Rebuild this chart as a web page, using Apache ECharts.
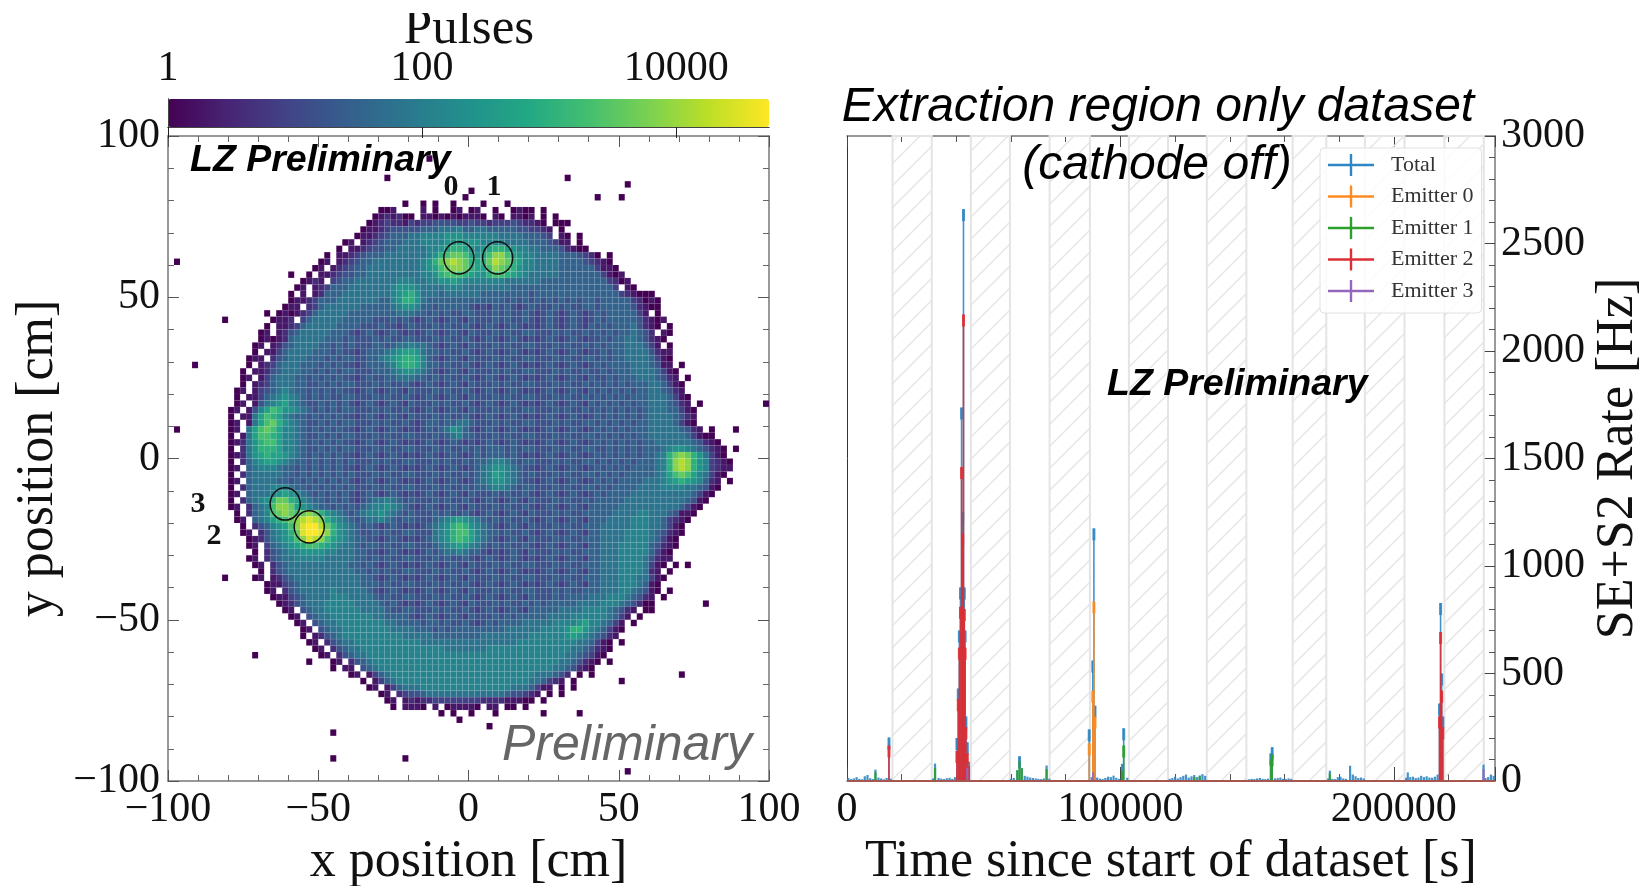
<!DOCTYPE html>
<html><head><meta charset="utf-8">
<style>html,body{margin:0;padding:0;background:#fff}#c{width:1640px;height:886px}</style>
<script src="https://cdn.jsdelivr.net/npm/echarts@6/dist/echarts.min.js"></script></head>
<body><div id="c"></div>
<script>
// 100 x 100 bins of 2 cm; top row is y=99, left column x=-99. "_" = ten empty bins. Char = base-36 level, log10(pulses)=0.3*level
const heatRows = [
"_","_","_",
"_ _ _ _ ...0......",
"_","_",
"_ _ _ ......0... _ _ ......0...",
"_ _ _ _ _ _ _ ......0...",
"_ _ _ _ _ 0.........",
"_ _ _ _ .........0 _ _ .0...0....",
"_ _ _ .........0 ..0.0..0.. ..0...0...",
"_ _ _ .....001.. ..1.0..01. 01..0..010 0.0.......",
"_ _ _ ....012120 0.11010101 110.10.110 1.0.0.....",
"_ _ _ ...0123221 3233444433 4332333432 210.000...",
"_ _ _ ..01123444 4455566675 5665555544 3321.0....",
"_ _ _ .011234555 6677778887 7777766665 5543.10.0.",
"_ _ .........0 1.12345556 6677778898 8877776666 5554311.0.",
"_ _ ........0. 1123445566 6667789aa9 8789aa9877 6655542100",
"_ _ ......0.11 2345556666 66678abccb 989bddb987 7666655543 20.0......",
".0........ _ .....01.12 3455666666 6678acdedc a9acedca97 7666655554 3210......",
"_ _ ....01.123 4556666666 66789bcddc a99bdcba87 7666655555 53110.....",
"_ _ 0..0.11234 4556666666 66778abbba 988abba987 6666655555 553101....",
"_ _ ..0121.345 5666666677 7667788987 7777776666 6655555555 5553201...",
"_ _ .01.123555 6666666788 8766667776 6666666555 5555555555 55553.10..",
"_ _ 0.1.125556 6666666789 a866656666 6655555555 4555555555 5555532100 0.........",
"_ _ 0112355566 666665578a a865555555 5555554545 4545454545 5455555320 10........",
"_ .........0 11.2356666 6655555678 8755455555 4343545434 5444545445 5455555421 00........",
"_ ......0.01 0123566666 5555555566 6554545445 5444545445 4345434543 4545555531 .0........",
".........0 .......011 2.35666665 5555444545 4345434543 5444545445 4345434543 4545555542 101.......",
"_ ......0.11 2356666655 5544454434 5444545445 4345434543 4345434543 5454555642 10.0......",
"_ .....01.12 4566666555 4345434543 4345434543 5444545445 5444545445 4545455654 2.10......",
"_ .....01012 5666665554 5444545445 5444545445 4345434543 4345434543 4454556654 210.......",
"_ ....01.124 5666655454 5444554566 7665434543 5444545445 5444545445 4545556665 31.0......",
"_ ....0.1135 6666555454 4345556789 9865545445 4345434543 4345434543 4454556666 4211......",
"_ ...011.245 6665554545 544556789a a975434543 5444545445 5444545445 5454556666 5310......",
"....0..... ...0.12356 6655545454 434555679a a975545445 4345434543 4345434543 4545555666 5411.0....",
"_ ..0.112456 6655454545 5444555678 8765434543 5444545445 5444545445 4454555666 65310.....",
"_ ..01.13566 6554545454 4345445566 6554545445 4345434543 4345434543 5445455566 65421.0...",
"_ ..0.123566 6554454545 5444545445 4345434543 5444545445 5444545445 4545454555 665310....",
"_ .01.134567 6554545454 4345434543 5444545445 4345434543 4345434543 5454545455 665421....",
"_ .0.1135678 7654545445 5444545445 4345434543 5444545445 5444545445 4545454555 6665310...",
"_ .01.146789 7654454545 4345434543 5444545445 4345434543 4345434543 5454545455 6665421.0. .........0",
"_ 01.1479ba8 8765454545 5444545445 4345434543 5444545445 5444545445 4545454545 66655310..",
"_ 0.1169ba97 6554545454 4345434543 5444545445 4345434543 4345434543 4545454545 66665421..",
"_ 01.169bca8 7654454545 5444545445 4345545566 5444545445 5444545445 5454545455 66665310..",
".0........ 01.69bcb97 7654545454 4345434543 4345456875 4345434543 4345434543 4545454555 666665421. 0...0.....",
"_ 0.169bba97 7654454545 5444545445 5444545675 5444545445 5444545445 5454545455 6666665310 0.........",
"_ 01268abb97 7654545454 4345434543 4345434543 4345434543 4345434543 4545454545 5666666542 10........",
"_ 0.268aaa97 7654454545 5444545445 5444545445 4545554545 5444545445 5445454545 5567887654 210.0.....",
"_ 012689a998 7654545454 4345434543 4345434543 4545554543 4345434543 4545454545 567acdca86 310.......",
"_ 0.25789987 6554545454 5444545445 5444545445 4556776545 5444545445 5454545455 567adeda87 3210......",
"_ 01.5677765 5454545454 4345434543 4345434543 4567887654 4345434543 4545454555 567adeda87 3211......",
"_ 0.25666665 5454545454 5444545445 5444545445 4567987654 5444545445 5454545555 5679bcb976 310.......",
"_ 01.5666655 4545454545 4345434543 4345434543 4567887654 4345434543 4545455556 66789a9875 21.0......",
"_ 0.25666777 6554545454 5444545445 5444545445 4556776545 5444545445 5454555566 6677776654 10........",
"_ 01.5666789 8765454545 4345434543 4345434543 5444545445 4345434543 4545555666 6666666531 0.........",
"_ 0.25678acc a976554545 4345667654 5444545445 4345434543 5444545445 4555556666 6666665410",
"_ 01.2567bdd c987655454 5456778765 4345434543 5444545445 4345434543 5555566666 666665310.",
"_ .0.2567bcd cbcdca8765 4567787654 5444545445 4345434543 5444545445 5555666677 66654110..",
"_ .01.5679ab cdefeda876 5456676545 5444567898 7654545445 4345434543 5556666777 6653210...",
"_ ..0.245789 bdfggeca87 6545434543 4345678aba 8765434543 5444545445 5566666777 665310....",
"_ ..01.24678 acfggfda87 6544545445 5444678abb 9765545445 4345434543 5566667777 654210....",
"_ ...0124678 9bdfedb987 6554434543 4345678aba 9765434543 5444545445 5566667777 65310.....",
"_ ...01.3567 89abba9876 6545545445 5444567898 7654545445 4345434543 5566677777 54210.....",
"_ ....0.2456 7788887766 6554434543 4345456676 5543434543 5444545445 5566677777 5310......",
"_ ...01.2456 6777776666 6554545445 5444545445 4345434543 4345434543 5566677776 4211......",
"_ ....01.245 6666666666 5545434543 4345434543 5444545445 5444545445 5566677776 310.0.0...",
"_ .....0.245 6666666666 6554545445 5444545445 4345434543 4345434543 5566677776 21.0......",
".........0 ....01.124 5666666666 6655434543 4345434543 5444545445 5444545445 5566677766 310.......",
"_ ......0113 4566666666 6655545445 5444545445 4345434543 4345434543 5566677765 10........",
"_ ......01.2 4566666766 6665434543 4345434543 5444545445 5444545445 5566677654 10.0......",
"_ .......011 3456666777 6666545445 5444545445 4345434543 5444545555 6667776542 1.0.......",
"_ ........01 2456667777 7666654543 4345434543 5444545445 4545555566 6677765420 0........0",
"_ .........0 1.45667777 7766665445 5444545445 4345434543 5555566667 77765421.0 0.........",
"_ _ 01.4566777 7777665555 4345434543 5444545455 5556666777 7776531.0.",
"_ _ .01.456677 7777776655 5545545445 4345455556 6666777789 776531.0..",
"_ _ ..01.45667 7777777666 6555454555 5555556666 6677778aa8 765310....",
"_ _ ..0.124567 7777777776 6666555555 5566666666 7777778987 65421.....",
"_ _ ...01.2456 6777777777 7766666666 6666666677 7777777766 5310.0....",
"_ _ ....01.245 6677777777 7777776666 6667777777 7777777665 4210......",
"_ ....0..... .....01.24 5667777777 7777777777 7777777777 7777776654 310.......",
"_ _ ...0...01. 2456777777 7777777777 7777777777 7777766542 10.0......",
"_ _ .......0.1 1.45677777 7777777777 7777777777 7777665421 0.........",
"_ _ _ 01.1356777 7777777777 7777777777 7666542.0. 0......... .....0....",
"_ _ _ ..0.135677 7777777777 7777777777 665321.0.. .....0....",
"_ _ _ ...01.1356 6677777777 7777777666 5311.0.0..",
"_ _ _ .....01.23 4456666666 6666665443 21.0.0....",
"_ _ _ ......01.1 2122333333 3322221110 0.0.......",
"_ _ _ .......0.1 110.1.0111 10.11.00.0",
"_ _ _ _ .....0.0.. 0...0.... ...0.....0",
"_ _ _ _ ........0.",
"_ _ _ _ _ ...0......",
"_ _ .......0..",
"_","_","_",
"_ _ .......0.. .........0",
"_",
"_ _ _ _ _ _ _ ......0...",
"_"];

const emitterCircles = [[-3.2,62.2,5],[9.7,62.2,5],[-53,-21.2,5],[-61,-14.1,5]];
const logMaxPulses = 4.73;
const colorbarTickLabels = {0:'1',2:'100',4:'10000'};
const viridis = ['#440154','#482475','#414487','#355f8d','#2a788e','#21918c','#22a884','#44bf70','#7ad151','#bddf26','#fde725'];

const hatchBands = [[16640,31000],[45300,59600],[74100,88850],[103100,117400],[131600,146070],[163000,175300],[189400,203900],[218500,232900]];

const totalTimes = [500,1500,2500,3500,4500,5500,6500,7500,8500,9500,10400,11500,12500,13500,14500,15350,16000,
 31500,32200,33500,34500,35500,36500,37500,38500,39500,40200,40700,41100,41500,41900,42300,42600,42900,43200,43500,44000,44600,
 60000,61000,62300,63100,63900,65000,66000,67000,68000,69000,70000,71000,72000,73000,74000,
 88600,89500,89900,90300,90700,91500,92500,93500,94500,95500,96500,97500,98500,99500,100600,101200,102500,
 118000,119000,120000,121000,122000,123000,124000,125000,126000,127000,128000,129000,130000,131000,
 147000,148000,149000,150000,151000,152000,153000,154000,155000,155500,156500,157500,158500,159500,160500,161500,162500,
 176000,176600,177500,178500,179500,180500,181500,182500,184000,185000,186000,187000,188000,189000,
 204500,205100,206000,207000,208000,209000,210000,211000,212000,213000,214000,215000,216000,216700,217100,217500,217900,
 233500,232800,234500,235500,236500];
const totalRates = [14,9,12,18,10,8,22,28,13,9,53,16,12,8,14,202,11,
 12,81,14,11,9,13,15,10,18,200,430,700,900,1737,1250,2660,900,700,300,180,90,
 10,14,50,115,60,24,20,16,14,12,10,9,12,72,11,
 240,18,560,1175,350,16,11,9,14,20,18,25,15,10,80,245,15,
 10,14,20,12,18,24,30,16,22,28,18,26,32,24,
 8,10,9,12,14,10,9,11,128,157,12,14,16,10,9,12,10,
 12,48,10,9,18,20,12,10,71,30,22,14,16,12,
 15,40,18,20,14,16,24,18,22,16,15,20,30,360,828,500,300,
 14,76,18,30,24];
const emitter0Times = [88600,89900,90300,90700];
const emitter0Rates = [175,420,835,300];
const emitter1Times = [10400,32200,62300,63100,63900,73000,100600,101200,127000,129000,155000,155500,176600];
const emitter1Rates = [40,60,50,92,60,55,50,165,18,22,100,124,35];
const emitter2Times = [15350,40200,40700,41100,41500,41900,42300,42600,42900,43200,43500,44000,44600,216700,217100,217500,217900];
const emitter2Rates = [165,140,380,620,810,1460,1150,2170,800,620,250,130,70,300,693,420,250];
const emitter3Times = [44000,90000,232800];
const emitter3Rates = [60,40,55];
const seriesNames = ['Total','Emitter 0','Emitter 1','Emitter 2','Emitter 3'];
const seriesColors = ['#2f86c4','#ff8a1f','#2ca02c','#dc2f34','#9467bd'];
const serif = 'Liberation Serif';

const heatData = [];
heatRows.forEach((row,i)=>{
  const cells = row.split(' ').map(t=>t==='_'?'..........':t).join('');
  for(let j=0;j<cells.length;j++){
    if(cells[j]==='.')continue;
    heatData.push([-99+2*j,99-2*i,Math.min(parseInt(cells[j],36)*0.3,logMaxPulses)]);
  }
});

function hatchTile(){
  const n=22,c=document.createElement('canvas');c.width=n;c.height=n;
  const g=c.getContext('2d');g.strokeStyle='#e6e6e6';g.lineWidth=1.5;
  g.beginPath();g.moveTo(-2,n+2);g.lineTo(n+2,-2);g.moveTo(-2,2);g.lineTo(2,-2);g.moveTo(n-2,n+2);g.lineTo(n+2,n-2);g.stroke();
  return c;
}
const hatch={image:hatchTile(),repeat:'repeat'};

const lab=(o)=>Object.assign({fontFamily:serif,fontSize:42,color:'#111'},o);
const spine={show:true,onZero:false,lineStyle:{color:'#777',width:1.5}};
function spatialAxis(grid,pos,labels,extra){
  return Object.assign({type:'value',gridIndex:grid,position:pos,min:-100,max:100,interval:50,
    axisLine:spine,splitLine:{show:false},
    axisTick:{show:true,inside:true,length:11,lineStyle:{color:'#555',width:1}},
    minorTick:{show:true,splitNumber:5,length:6,lineStyle:{color:'#666',width:1}},
    axisLabel:labels?lab({show:true,margin:8,padding:(pos==='left'?[10,0,0,0]:0),formatter:v=>String(v).replace('-','\u2212'),showMinLabel:true,showMaxLabel:true}):{show:false}},extra||{});
}
function barSeries(k,times,rates){
  return {name:seriesNames[k],type:'custom',xAxisIndex:2,yAxisIndex:2,z:3+k,silent:true,
    color:seriesColors[k],itemStyle:{color:seriesColors[k]},
    clip:true,data:times.map((t,i)=>[t,rates[i]]),encode:{x:0,y:1},
    renderItem:(p,api)=>{
      const a=api.coord([api.value(0),0]),b=api.coord([api.value(0),api.value(1)]);
      const big=api.value(1)>100,col=seriesColors[k];
      const kids=[{type:'line',shape:{x1:a[0],y1:a[1],x2:b[0],y2:b[1]},style:{stroke:col,lineWidth:big?1.6:2.2,opacity:.9}}];
      if(big)kids.push({type:'line',shape:{x1:b[0],y1:b[1],x2:b[0],y2:b[1]+12},style:{stroke:col,lineWidth:3,opacity:.85}});
      return {type:'group',children:kids};
    }};
}

const option={
  backgroundColor:'#fff',animation:false,
  textStyle:{fontFamily:serif},
  grid:[
    {left:168,top:136,width:601,height:645,outerBoundsMode:'none'},
    {left:847,top:136,width:648,height:645,outerBoundsMode:'none'},
    {left:168,top:99,width:601,height:28,outerBoundsMode:'none'}
  ],
  xAxis:[
    spatialAxis(0,'bottom',true,{name:'x position [cm]',nameLocation:'middle',nameGap:48,nameTextStyle:lab({fontSize:52})}),
    spatialAxis(0,'top',false),
    {type:'value',gridIndex:1,position:'bottom',min:0,max:237000,interval:100000,axisLine:spine,splitLine:{show:false},
      axisTick:{show:true,inside:true,length:14,lineStyle:{color:'#444'}},minorTick:{show:true,splitNumber:5,length:7,lineStyle:{color:'#555'}},
      axisLabel:lab({margin:8,showMaxLabel:false,formatter:v=>String(v)}),name:'Time since start of dataset [s]',nameLocation:'middle',nameGap:48,nameTextStyle:lab({fontSize:52})},
    {type:'value',gridIndex:1,position:'top',min:0,max:237000,interval:100000,axisLine:spine,splitLine:{show:false},
      axisTick:{show:true,inside:true,length:11,lineStyle:{color:'#444'}},minorTick:{show:true,splitNumber:5,length:6,lineStyle:{color:'#555'}},axisLabel:{show:false}},
    {type:'value',gridIndex:2,position:'top',z:10,min:0,max:logMaxPulses,interval:2,axisLine:{show:true,lineStyle:{color:'#444',width:1}},splitLine:{show:false},
      axisTick:{show:true,inside:true,length:11,lineStyle:{color:'#222'}},
      axisLabel:lab({margin:9,showMaxLabel:false,formatter:v=>colorbarTickLabels[v]||''})},
    {type:'value',gridIndex:2,position:'bottom',z:10,min:0,max:logMaxPulses,axisLine:{show:true,lineStyle:{color:'#444',width:1}},splitLine:{show:false},axisTick:{show:false},axisLabel:{show:false}}
  ],
  yAxis:[
    spatialAxis(0,'left',true,{name:'y position [cm]',nameLocation:'middle',nameGap:104,nameRotate:90,nameTextStyle:lab({fontSize:52})}),
    spatialAxis(0,'right',false),
    {type:'value',gridIndex:1,position:'right',min:0,max:3000,interval:500,axisLine:spine,splitLine:{show:false},
      axisTick:{show:true,inside:true,length:12,lineStyle:{color:'#444'}},minorTick:{show:true,splitNumber:5,length:6,lineStyle:{color:'#555'}},
      axisLabel:lab({margin:6,padding:[10,0,0,0],formatter:v=>String(v)}),name:'SE+S2 Rate [Hz]',nameLocation:'middle',nameGap:97,nameRotate:90,nameTextStyle:lab({fontSize:52})},
    {type:'value',gridIndex:1,position:'left',min:0,max:3000,interval:500,axisLine:{show:true,onZero:false,lineStyle:{color:'#333',width:1}},splitLine:{show:false},axisTick:{show:false},axisLabel:{show:false}},
    {type:'value',gridIndex:2,position:'left',z:10,min:0,max:1,axisLine:{show:true,lineStyle:{color:'#444'}},splitLine:{show:false},axisTick:{show:false},axisLabel:{show:false}},
    {type:'value',gridIndex:2,position:'right',z:10,min:0,max:1,axisLine:{show:true,lineStyle:{color:'#444'}},splitLine:{show:false},axisTick:{show:false},axisLabel:{show:false}}
  ],
  visualMap:{type:'continuous',seriesIndex:0,dimension:2,min:0,max:logMaxPulses,orient:'horizontal',left:168,top:99,padding:0,
    itemWidth:28,itemHeight:601,calculable:false,realtime:false,hoverLink:false,text:null,showLabel:false,
    inRange:{color:viridis},z:1},
  legend:{show:true,data:seriesNames.map(name=>({name,icon:'path://M0 9.8H46V12.2H0ZM21.8 0H24.2V22H21.8Z'})),
    orient:'vertical',left:1320,top:148,itemWidth:46,itemHeight:22,itemGap:9.5,
    padding:[6,8,11,8],align:'left',backgroundColor:'rgba(255,255,255,0.82)',borderColor:'#e2e2e2',borderWidth:1,borderRadius:4,
    textStyle:{fontFamily:serif,fontSize:22,color:'#333',padding:[0,0,0,12]},selectedMode:false,z:20},
  series:[
    {name:'pulses',type:'custom',xAxisIndex:0,yAxisIndex:0,z:2,silent:true,data:heatData,encode:{x:0,y:1},progressive:0,
     renderItem:(p,api)=>{
       const tl=api.coord([api.value(0)-1,api.value(1)+1]),s=api.size([2,2]);
       return {type:'rect',shape:{x:tl[0],y:tl[1],width:s[0],height:s[1]},
         style:{fill:api.visual('color'),stroke:'rgba(255,255,255,0.09)',lineWidth:.6}};
     }},
    {name:'circles',type:'custom',xAxisIndex:0,yAxisIndex:0,z:4,silent:true,data:emitterCircles,encode:{x:0,y:1},
     renderItem:(p,api)=>{
       const c=api.coord([api.value(0),api.value(1)]),s=api.size([api.value(2),api.value(2)]);
       return {type:'ellipse',shape:{cx:c[0],cy:c[1],rx:s[0],ry:s[1]},style:{fill:'none',stroke:'#111',lineWidth:1.5}};
     }},
    {name:'hatch',type:'custom',xAxisIndex:2,yAxisIndex:2,z:1,silent:true,data:hatchBands,encode:{x:[0,1]},
     renderItem:(p,api)=>{
       const a=api.coord([api.value(0),3000]),b=api.coord([api.value(1),0]);
       return {type:'rect',shape:{x:a[0],y:a[1],width:b[0]-a[0],height:b[1]-a[1]},style:{fill:hatch,stroke:'#e4e4e4',lineWidth:2}};
     }},
    barSeries(0,totalTimes,totalRates),
    barSeries(1,emitter0Times,emitter0Rates),
    barSeries(2,emitter1Times,emitter1Rates),
    barSeries(3,emitter2Times,emitter2Rates),
    barSeries(4,emitter3Times,emitter3Rates),
    {name:'base',type:'line',xAxisIndex:2,yAxisIndex:2,z:9,silent:true,showSymbol:false,data:[[0,0],[237000,0]],lineStyle:{color:'#a5564f',width:2}}
  ],
  graphic:[
    {type:'text',z:100,silent:true,x:469,y:4,style:{text:'Pulses',font:"51px 'Liberation Serif'",fill:'#111',textAlign:'center'}},
    {type:'rect',z:101,silent:true,shape:{x:400,y:0,width:140,height:13},style:{fill:'#fff'}},
    {type:'text',z:100,silent:true,x:190,y:142,style:{text:'LZ Preliminary',font:"italic bold 37.5px 'Liberation Sans'",fill:'#000'}},
    {type:'text',z:100,silent:true,x:1107,y:366,style:{text:'LZ Preliminary',font:"italic bold 37.5px 'Liberation Sans'",fill:'#000'}},
    {type:'text',z:100,silent:true,x:502,y:721,style:{text:'Preliminary',font:"italic 50px 'Liberation Sans'",fill:'#666'}},
    {type:'text',z:100,silent:true,x:1158,y:84,style:{text:'Extraction region only dataset',font:"italic 48px 'Liberation Sans'",fill:'#000',textAlign:'center'}},
    {type:'text',z:100,silent:true,x:1157,y:142,style:{text:'(cathode off)',font:"italic 48px 'Liberation Sans'",fill:'#000',textAlign:'center'}},
    {type:'text',z:100,silent:true,x:451,y:172,style:{text:'0',font:"bold 30px 'Liberation Serif'",fill:'#111',textAlign:'center'}},
    {type:'text',z:100,silent:true,x:494,y:172,style:{text:'1',font:"bold 30px 'Liberation Serif'",fill:'#111',textAlign:'center'}},
    {type:'text',z:100,silent:true,x:198,y:489,style:{text:'3',font:"bold 30px 'Liberation Serif'",fill:'#111',textAlign:'center'}},
    {type:'text',z:100,silent:true,x:214,y:521,style:{text:'2',font:"bold 30px 'Liberation Serif'",fill:'#111',textAlign:'center'}}
  ]
};
const chart=echarts.init(document.getElementById('c'),null,{renderer:'canvas'});
chart.setOption(option);
</script></body></html>
